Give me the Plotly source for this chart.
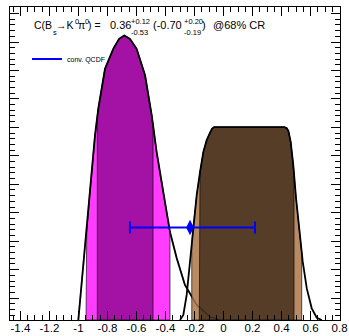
import numpy as np
import plotly.graph_objects as go

# ---------------- data ----------------
# purple distribution
purple_x = [-1.001, -0.990, -0.967, -0.943, -0.921, -0.886, -0.863, -0.817, -0.760, -0.720, -0.684,
            -0.645, -0.599, -0.541, -0.495, -0.461, -0.415, -0.369, -0.323, -0.266, -0.185, -0.093, -0.024]
purple_y = [0.0, 0.063, 0.193, 0.309, 0.449, 0.649, 0.744, 0.883, 0.953, 0.988, 1.0,
            0.988, 0.953, 0.860, 0.719, 0.590, 0.449, 0.309, 0.218, 0.123, 0.053, 0.011, 0.0]
purple_68 = [-0.870, -0.486]
purple_95 = [-0.948, -0.369]

# brown distribution
brown_x = [-0.300, -0.277, -0.254, -0.231, -0.208, -0.185, -0.162, -0.139, -0.116, -0.093, -0.080, -0.065,
           0.420, 0.436, 0.447, 0.463, 0.481, 0.500, 0.523, 0.546, 0.574, 0.608, 0.643, 0.677]
brown_y = [0.0, 0.018, 0.088, 0.205, 0.333, 0.439, 0.520, 0.591, 0.632, 0.661, 0.672, 0.678,
           0.678, 0.674, 0.665, 0.626, 0.544, 0.428, 0.310, 0.205, 0.111, 0.041, 0.008, 0.0]
brown_68 = [-0.167, 0.486]
brown_95 = [-0.219, 0.539]

# conv. QCDF prediction
qcdf_central = -0.231
qcdf_plus = 0.448
qcdf_minus = 0.414

x_ticks = [-1.4, -1.2, -1.0, -0.8, -0.6, -0.4, -0.2, 0.0, 0.2, 0.4, 0.6, 0.8]
x_ticklabels = ["-1.4", "-1.2", "-1", "-0.8", "-0.6", "-0.4", "-0.2", "0", "0.2", "0.4", "0.6", "0.8"]

# ---------------- figure ----------------
W, H = 349, 336
L, R, T, B = 10, 340, 7, 320
FONT = "Liberation Sans, Arial, sans-serif"

def band(xs, ys, lo, hi):
    xs = np.asarray(xs); ys = np.asarray(ys)
    inside = (xs > lo) & (xs < hi)
    bx = [lo] + list(xs[inside]) + [hi]
    by = [float(np.interp(lo, xs, ys))] + list(ys[inside]) + [float(np.interp(hi, xs, ys))]
    px = [lo] + bx + [hi, lo]
    py = [0.0] + by + [0.0, 0.0]
    return px, py

fig = go.Figure()

def add_fill(xs, ys, rng, color):
    bx, by = band(xs, ys, rng[0], rng[1])
    fig.add_trace(go.Scatter(x=bx, y=by, mode="lines", fill="toself", fillcolor=color,
                             line=dict(color="rgba(0,0,0,0.8)", width=0.8),
                             showlegend=False, hoverinfo="skip"))

add_fill(purple_x, purple_y, purple_95, "#ff3cff")
add_fill(purple_x, purple_y, purple_68, "#a312a5")
fig.add_trace(go.Scatter(x=purple_x, y=purple_y, mode="lines", line=dict(color="black", width=1.8),
                         showlegend=False, hoverinfo="skip"))
add_fill(brown_x, brown_y, brown_95, "#b98b64")
add_fill(brown_x, brown_y, brown_68, "#553d28")
fig.add_trace(go.Scatter(x=brown_x, y=brown_y, mode="lines", line=dict(color="black", width=1.8),
                         showlegend=False, hoverinfo="skip"))
fig.add_trace(go.Scatter(x=purple_x, y=purple_y, mode="lines",
                         line=dict(color="rgba(0,0,0,0.3)", width=1.5),
                         showlegend=False, hoverinfo="skip"))

# error bar
fig.add_trace(go.Scatter(x=[qcdf_central], y=[0.325], mode="markers",
                         marker=dict(symbol="diamond-tall", size=11, color="#0000ff"),
                         error_x=dict(type="data", symmetric=False, array=[qcdf_plus], arrayminus=[qcdf_minus],
                                      color="#0000ff", thickness=2, width=6),
                         showlegend=False, hoverinfo="skip"))
# legend entry
fig.add_trace(go.Scatter(x=[None], y=[None], mode="lines", name="conv. QCDF",
                         line=dict(color="#0000ff", width=2)))

def px2paper(px, py):
    return (px - L) / (R - L), (B - py) / (B - T)

pieces = [
    ("C(B", 33, 25, 10.5),
    ("s", 51.5, 33, 7.5),
    ("→K", 55, 25, 10.5),
    ("0", 73.5, 21, 7.5),
    ("π", 77, 25, 10.5),
    ("0", 84, 21, 7.5),
    (") =", 87, 25, 10.5),
    ("0.36", 108.5, 25, 11),
    ("+0.12", 129.5, 21, 7.5),
    ("-0.53", 129.5, 33, 7.5),
    ("(-0.70", 151.5, 25, 11),
    ("+0.20", 182.5, 21, 7.5),
    ("-0.19", 182.5, 33, 7.5),
    (")", 200.5, 25, 11),
    ("@68% CR", 211.5, 25, 11),
]
for txt, px, py, sz in pieces:
    ax, ay = px2paper(px, py)
    fig.add_annotation(text=txt, x=ax, y=ay, xref="paper", yref="paper", xanchor="left", yanchor="middle",
                       showarrow=False, font=dict(family=FONT, size=sz, color="black"), borderpad=0)

lx, ly = px2paper(27, 59)
fig.update_layout(
    width=W, height=H,
    margin=dict(l=L, r=W - R, t=T, b=H - B, autoexpand=False),
    plot_bgcolor="white", paper_bgcolor="white",
    font=dict(family=FONT, size=12, color="black"),
    showlegend=True,
    legend=dict(x=lx, y=ly, xanchor="left", yanchor="middle", bgcolor="rgba(0,0,0,0)",
                font=dict(family=FONT, size=7, color="black"), itemwidth=30),
    xaxis=dict(range=[-1.472, 0.803], tickvals=x_ticks, ticktext=x_ticklabels, ticks="inside", ticklen=9,
               tickcolor="black", showline=True, linecolor="black", linewidth=1, mirror="ticks",
               showgrid=False, zeroline=False, tickfont=dict(size=11.5), ticklabelstandoff=-3,
               minor=dict(dtick=0.05, tick0=0, ticks="inside", ticklen=5, tickcolor="black", showgrid=False)),
    yaxis=dict(range=[0, 1.1], tick0=0.077, dtick=0.1, ticks="inside", ticklen=9, showticklabels=False,
               tickcolor="black", showline=True, linecolor="black", linewidth=1, mirror="ticks",
               showgrid=False, zeroline=False,
               minor=dict(dtick=0.02, tick0=0.077, ticks="inside", ticklen=5, tickcolor="black", showgrid=False)),
)
fig.write_html("out.html")
